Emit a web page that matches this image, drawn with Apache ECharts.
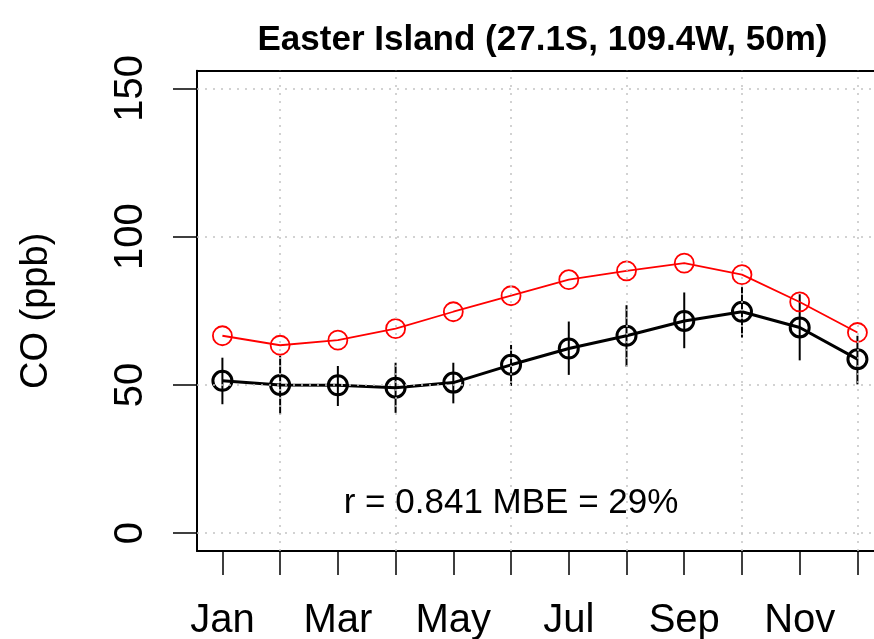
<!DOCTYPE html>
<html>
<head>
<meta charset="utf-8">
<script src="https://cdn.jsdelivr.net/npm/echarts@6/dist/echarts.min.js"></script>
<style>
  html, body { margin: 0; padding: 0; background: #fff; }
  #main { width: 874px; height: 639px; }
</style>
</head>
<body>
<div id="main"></div>
<script>
// month labels and positions
const monthNames = ['Jan', 'Feb', 'Mar', 'Apr', 'May', 'Jun', 'Jul', 'Aug', 'Sep', 'Oct', 'Nov', 'Dec'];
const months = [1, 2, 3, 4, 5, 6, 7, 8, 9, 10, 11, 12];
const labelMonths = [1, 3, 5, 7, 9, 11];
const yTicks = [0, 50, 100, 150];
const gridX = [2, 4, 6, 8, 10, 12];

// observed (black) with error bar range
const obsMean = [51.4, 50.0, 49.9, 49.1, 50.8, 56.8, 62.3, 66.6, 71.6, 74.7, 69.4, 58.7];
const obsLow  = [43.5, 40.1, 42.9, 40.6, 43.8, 49.7, 53.4, 56.2, 62.4, 66.0, 58.3, 50.2];
const obsHigh = [59.2, 59.8, 56.4, 57.5, 57.5, 63.5, 71.4, 76.9, 81.2, 83.0, 80.6, 66.6];

// model (red)
const modelMean = [66.6, 63.4, 65.1, 69.0, 74.7, 80.1, 85.5, 88.5, 91.1, 87.2, 78.0, 67.7];

const titleText = 'Easter Island (27.1S, 109.4W, 50m)';
const statsText = 'r = 0.841 MBE = 29%';
const statsPos = [6, 10];

const font = "'Liberation Sans', Arial, Helvetica, sans-serif";

let myChart = echarts.init(document.getElementById('main'), null, { renderer: 'canvas' });

const dotted = { color: '#c4c4c4', width: 1.5, type: [2, 6] };
const boxLine = { show: true, onZero: false, lineStyle: { color: '#000', width: 2 } };

myChart.setOption({
  animation: false,
  backgroundColor: '#fff',
  textStyle: { fontFamily: font },
  title: {
    text: titleText,
    left: 537.5,
    top: 18,
    textAlign: 'center',
    textStyle: { fontFamily: font, fontWeight: 'bold', fontSize: 35, color: '#000' }
  },
  grid: {
    left: 197,
    top: 70.7,
    right: 0,
    bottom: 88,
    containLabel: false,
    outerBoundsMode: 'none'
  },
  xAxis: [
    {
      type: 'value',
      position: 'bottom',
      min: 0.56,
      max: 12.287,
      axisLine: boxLine,
      splitLine: { show: false },
      axisTick: {
        show: true,
        length: 24,
        customValues: months,
        lineStyle: { color: '#000', width: 1.5 }
      },
      axisLabel: {
        customValues: labelMonths,
        formatter: v => monthNames[Math.round(v) - 1],
        fontSize: 40,
        color: '#000',
        margin: 50,
        fontFamily: font
      }
    },
    {
      // top edge of the plot box
      type: 'value',
      position: 'top',
      min: 0.56,
      max: 12.287,
      axisLine: boxLine,
      axisTick: { show: false },
      axisLabel: { show: false },
      splitLine: { show: false }
    }
  ],
  yAxis: {
    type: 'value',
    min: -6,
    max: 156,
    name: 'CO (ppb)',
    nameLocation: 'middle',
    nameGap: 141,
    nameRotate: 90,
    nameTextStyle: { fontSize: 38, color: '#000', fontFamily: font },
    axisLine: boxLine,
    splitLine: { show: false },
    axisTick: {
      show: true,
      length: 24,
      customValues: yTicks,
      lineStyle: { color: '#000', width: 1.5 }
    },
    axisLabel: {
      customValues: yTicks,
      rotate: 90,
      fontSize: 40,
      color: '#000',
      margin: 46,
      fontFamily: font
    }
  },
  series: [
    {
      name: 'errbar',
      type: 'custom',
      z: 1,
      data: months.map((m, i) => [m, obsLow[i], obsHigh[i]]),
      renderItem: function (params, api) {
        const a = api.coord([api.value(0), api.value(1)]);
        const b = api.coord([api.value(0), api.value(2)]);
        return {
          type: 'line',
          shape: { x1: a[0], y1: a[1], x2: b[0], y2: b[1] },
          style: { stroke: '#000', lineWidth: 2 }
        };
      }
    },
    {
      name: 'gridlines',
      type: 'line',
      z: 2,
      data: [],
      markLine: {
        silent: true,
        symbol: ['none', 'none'],
        label: { show: false },
        lineStyle: dotted,
        data: gridX.map(v => ({ xAxis: v })).concat(yTicks.map(v => ({ yAxis: v })))
      }
    },
    {
      name: 'obs',
      type: 'line',
      z: 3,
      data: months.map((m, i) => [m, obsMean[i]]),
      symbol: 'circle',
      symbolSize: 19,
      lineStyle: { color: '#000', width: 3 },
      itemStyle: { color: 'rgba(0,0,0,0)', borderColor: '#000', borderWidth: 3 }
    },
    {
      name: 'model',
      type: 'line',
      z: 4,
      data: months.map((m, i) => [m, modelMean[i]]),
      symbol: 'circle',
      symbolSize: 19,
      lineStyle: { color: '#ff0000', width: 1.8 },
      itemStyle: { color: 'rgba(0,0,0,0)', borderColor: '#ff0000', borderWidth: 1.8 }
    },
    {
      name: 'stats',
      type: 'scatter',
      z: 5,
      symbolSize: 0,
      data: [statsPos],
      itemStyle: { opacity: 1 },
      label: {
        show: true,
        position: 'inside',
        formatter: statsText,
        fontSize: 35,
        color: '#000',
        textBorderWidth: 0,
        fontFamily: font
      }
    }
  ]
});

window.onresize = function () {
  myChart.resize();
};
</script>
</body>
</html>
